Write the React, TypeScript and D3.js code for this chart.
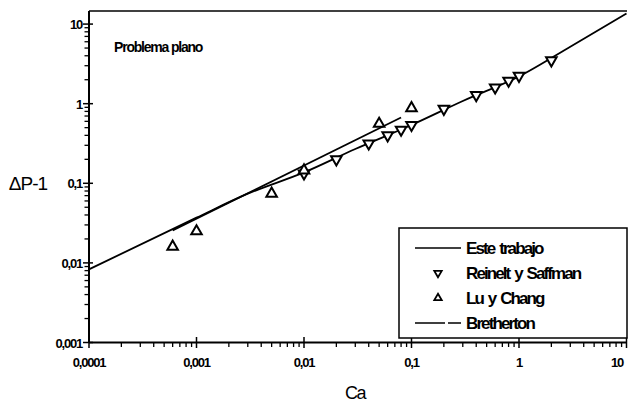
import React, { useEffect, useRef } from 'react'
import * as d3 from 'd3'

// Este trabajo (curva)
const esteCa = [0.0001, 0.001, 0.003, 0.01, 0.03, 0.1, 0.3, 1, 3, 10]
const esteDP = [0.0083, 0.037, 0.074, 0.137, 0.27, 0.54, 1.08, 2.2, 5.2, 13.6]

// Reinelt y Saffman
const reineltCa = [0.01, 0.02, 0.04, 0.06, 0.08, 0.1, 0.2, 0.4, 0.6, 0.8, 1, 2]
const reineltDP = [0.133, 0.2, 0.316, 0.4, 0.47, 0.54, 0.86, 1.28, 1.6, 1.94, 2.24, 3.5]

// Lu y Chang
const luCa = [0.0006, 0.001, 0.005, 0.01, 0.05, 0.1]
const luDP = [0.016, 0.025, 0.074, 0.145, 0.56, 0.88]

// Bretherton
const brethCa = [0.0006, 0.08]
const brethDP = [0.0256, 0.67]

const xTicks = [0.0001, 0.001, 0.01, 0.1, 1, 10]
const xTickLabels = ['0,0001', '0,001', '0,01', '0,1', '1', '10']
const yTicks = [0.001, 0.01, 0.1, 1, 10]
const yTickLabels = ['0,001', '0,01', '0,1', '1', '10']

const legendLabels = ['Este trabajo', 'Reinelt y Saffman', 'Lu y Chang', 'Bretherton']

export default function App() {
  const ref = useRef<SVGSVGElement>(null)

  useEffect(() => {
    const svg = d3.select(ref.current)
    svg.selectAll('*').remove()

    const font = 'Liberation Sans, Arial, sans-serif'
    const x = d3.scaleLog().domain([0.0001, 10]).range([89, 626.5])
    const y = d3.scaleLog().domain([0.001, 14.6]).range([342.5, 11])

    const g = svg.append('g')

    // frame: left, bottom, top
    g.append('line').attr('x1', 89).attr('x2', 89).attr('y1', 11).attr('y2', 342.5)
      .attr('stroke', '#000').attr('stroke-width', 2)
    g.append('line').attr('x1', 89).attr('x2', 627).attr('y1', 342.5).attr('y2', 342.5)
      .attr('stroke', '#000').attr('stroke-width', 2)
    g.append('line').attr('x1', 89).attr('x2', 627).attr('y1', 11).attr('y2', 11)
      .attr('stroke', '#000').attr('stroke-width', 1.5)

    // minor ticks
    const minor = (lo: number, hi: number) => {
      const out: number[] = []
      for (let e = Math.log10(lo); e < Math.log10(hi); e++) {
        for (let m = 2; m <= 9; m++) out.push(m * Math.pow(10, e))
      }
      return out
    }
    const xMinor = minor(0.0001, 10)
    g.selectAll('.xminor').data(xMinor).enter().append('line')
      .attr('x1', d => x(d)).attr('x2', d => x(d))
      .attr('y1', 342.5).attr('y2', 347)
      .attr('stroke', '#000').attr('stroke-width', 1.3)
    g.selectAll('.xmajor').data(xTicks).enter().append('line')
      .attr('x1', d => x(d)).attr('x2', d => x(d))
      .attr('y1', 337).attr('y2', 348)
      .attr('stroke', '#000').attr('stroke-width', 1.5)
    g.selectAll('.xlab').data(xTicks).enter().append('text')
      .attr('x', d => Math.min(x(d), 617)).attr('y', 367)
      .attr('text-anchor', 'middle')
      .attr('font-family', font).attr('font-size', 13).attr('font-weight', 'bold')
      .attr('letter-spacing', -1.2)
      .text((d, i) => xTickLabels[i])

    const yMinor = minor(0.001, 10)
    g.selectAll('.yminor').data(yMinor).enter().append('line')
      .attr('x1', 84.5).attr('x2', 89)
      .attr('y1', d => y(d)).attr('y2', d => y(d))
      .attr('stroke', '#000').attr('stroke-width', 1.3)
    g.selectAll('.ymajor').data(yTicks).enter().append('line')
      .attr('x1', 83).attr('x2', 93)
      .attr('y1', d => y(d)).attr('y2', d => y(d))
      .attr('stroke', '#000').attr('stroke-width', 1.5)
    g.selectAll('.ylab').data(yTicks).enter().append('text')
      .attr('x', 82).attr('y', d => y(d) + 5)
      .attr('text-anchor', 'end')
      .attr('font-family', font).attr('font-size', 13).attr('font-weight', 'bold')
      .attr('letter-spacing', -1.2)
      .text((d, i) => yTickLabels[i])

    // axis titles
    g.append('text').attr('x', 28).attr('y', 190).attr('text-anchor', 'middle')
      .attr('font-family', font).attr('font-size', 19).attr('letter-spacing', -1)
      .text('ΔP-1')
    g.append('text').attr('x', 355).attr('y', 399).attr('text-anchor', 'middle')
      .attr('font-family', font).attr('font-size', 18).attr('letter-spacing', -1.5)
      .text('Ca')
    g.append('text').attr('x', 114).attr('y', 52)
      .attr('font-family', font).attr('font-size', 14).attr('font-weight', 'bold')
      .attr('letter-spacing', -1.2)
      .text('Problema plano')

    // curves
    const line = d3.line<[number, number]>()
      .x(d => x(d[0])).y(d => y(d[1]))
      .curve(d3.curveMonotoneX)
    g.append('path')
      .datum(esteCa.map((c, i) => [c, esteDP[i]] as [number, number]))
      .attr('d', line).attr('fill', 'none').attr('stroke', '#000').attr('stroke-width', 1.8)
    g.append('path')
      .datum(brethCa.map((c, i) => [c, brethDP[i]] as [number, number]))
      .attr('d', d3.line<[number, number]>().x(d => x(d[0])).y(d => y(d[1])))
      .attr('fill', 'none').attr('stroke', '#000').attr('stroke-width', 1.8)

    // markers
    const tri = d3.symbol().type(d3.symbolTriangle).size(48)
    g.selectAll('.rs').data(reineltCa).enter().append('path')
      .attr('d', tri)
      .attr('transform', (d, i) => `translate(${x(d)},${y(reineltDP[i])}) rotate(180)`)
      .attr('fill', '#fff').attr('stroke', '#000').attr('stroke-width', 2)
    g.selectAll('.lc').data(luCa).enter().append('path')
      .attr('d', tri)
      .attr('transform', (d, i) => `translate(${x(d)},${y(luDP[i])})`)
      .attr('fill', '#fff').attr('stroke', '#000').attr('stroke-width', 2)

    // legend
    const lg = g.append('g')
    lg.append('rect').attr('x', 399).attr('y', 228).attr('width', 228).attr('height', 110)
      .attr('fill', '#fff').attr('stroke', '#000').attr('stroke-width', 1.5)
    const rowY = [248, 273, 298, 323]
    legendLabels.forEach((lab, i) => {
      const yy = rowY[i]
      if (i === 0 || i === 3) {
        lg.append('line').attr('x1', 415).attr('x2', 461).attr('y1', yy).attr('y2', yy)
          .attr('stroke', '#000').attr('stroke-width', 1.3)
          .attr('stroke-dasharray', i === 3 ? '30,3' : null)
      } else {
        lg.append('path').attr('d', d3.symbol().type(d3.symbolTriangle).size(24))
          .attr('transform', `translate(438,${yy}) ${i === 1 ? 'rotate(180)' : ''}`)
          .attr('fill', '#fff').attr('stroke', '#000').attr('stroke-width', 1.8)
      }
      lg.append('text').attr('x', 466).attr('y', yy + 6)
        .attr('font-family', font).attr('font-size', 17).attr('font-weight', 'bold')
        .attr('letter-spacing', -1.9).attr('word-spacing', 2)
        .text(lab)
    })
  }, [])

  return (
    <svg ref={ref} width={628} height={402}
      style={{ position: 'absolute', left: 0, top: 0, background: '#fff' }} />
  )
}
